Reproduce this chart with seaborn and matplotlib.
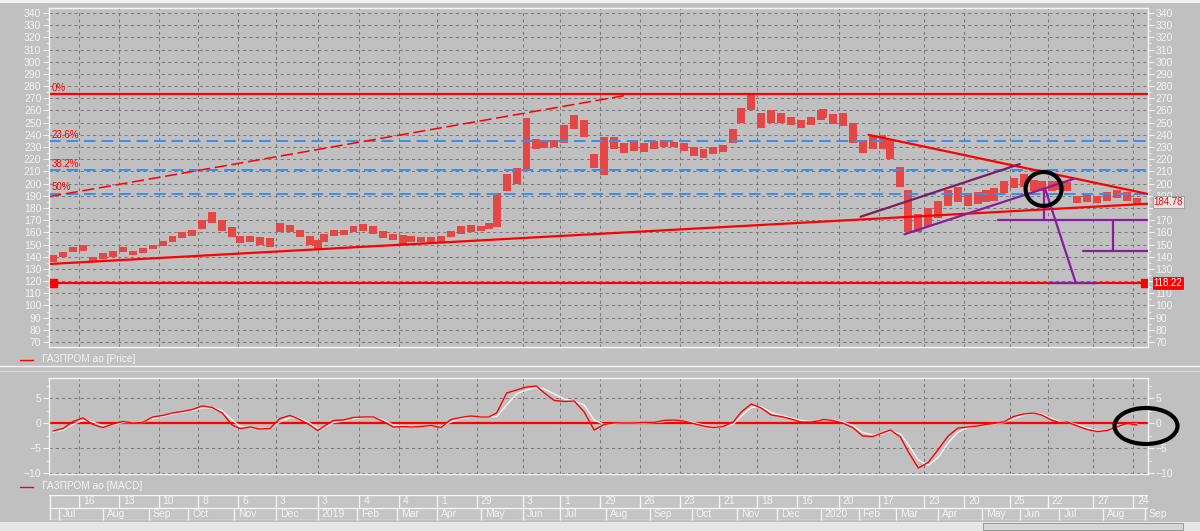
import numpy as np
import pandas as pd
import matplotlib
matplotlib.use("Agg")
import matplotlib.pyplot as plt
import matplotlib.transforms as mtransforms
from matplotlib.patches import Ellipse, Rectangle
from matplotlib.lines import Line2D
from matplotlib.ticker import MultipleLocator, FuncFormatter
import seaborn as sns

sns.set_style("white")
plt.rcParams["font.family"] = ["Liberation Sans", "DejaVu Sans"]

BG = "#C0C0C0"
LIGHT = "#F4F4F4"
GRID = "#7A7A7A"
RED = "#FF0000"
BAR_RED = "#E54646"
BLUE = "#3A8EF0"
PURPLE = "#8A1C9E"
PLUM = "#7A1E5E"

# ---- data ----
first_session = "2018-06-25"
moex_holidays = ["2018-11-05", "2019-01-01", "2019-01-02", "2019-01-07", "2019-03-08",
                 "2019-05-01", "2019-05-09", "2019-06-12", "2019-11-04", "2020-01-01",
                 "2020-01-02", "2020-01-03", "2020-01-07", "2020-02-24", "2020-03-09",
                 "2020-05-01", "2020-05-11", "2020-06-12", "2020-06-24", "2020-07-01"]

# weekly high / low of ГАЗПРОМ ао
price_low = [136, 140, 144, 145, 136, 138, 140, 144, 141, 143,
             146, 149, 152, 155, 157, 163, 168, 161, 156, 151,
             152, 150, 148, 160, 160, 156, 150, 146, 152, 157,
             158, 160, 161, 159, 155, 154, 150, 152, 152, 151,
             151, 156, 159, 160, 161, 163, 164, 194, 200, 212,
             228, 229, 230, 233, 245, 238, 213, 207, 228, 225,
             227, 226, 228, 230, 230, 227, 223, 221, 224, 226,
             233, 250, 260, 246, 250, 250, 248, 246, 248, 252,
             254, 249, 247, 233, 225, 228, 228, 220, 197, 160,
             160, 165, 172, 182, 185, 182, 183, 185, 186, 192,
             196, 197, 194, 194, 194, 195, 194, 184, 185, 184,
             186, 188, 186, 183]
price_high = [141, 144, 148, 150, 140, 143, 145, 148, 145, 147,
              150, 153, 157, 160, 162, 170, 177, 170, 164, 157,
              157, 156, 155, 168, 166, 162, 157, 154, 159, 162,
              162, 165, 167, 165, 161, 159, 158, 157, 156, 156,
              157, 161, 165, 166, 165, 168, 192, 208, 213, 254,
              237, 236, 236, 248, 256, 252, 224, 238, 238, 233,
              234, 233, 235, 236, 234, 233, 230, 228, 230, 232,
              245, 262, 273, 258, 260, 258, 255, 252, 255, 260,
              261, 257, 258, 250, 236, 240, 240, 236, 214, 195,
              175, 180, 186, 195, 197, 192, 193, 195, 196, 202,
              205, 208, 203, 202, 202, 202, 201, 190, 191, 190,
              193, 195, 193, 188]
macd_line = [-1.6, -1.1, 0.3, 1.0, -0.3, -0.9, -0.2, 0.3, 0.0, 0.1,
             1.2, 1.5, 2.0, 2.3, 2.7, 3.4, 3.1, 2.0, -0.4, -1.1,
             -0.8, -1.2, -1.1, 0.9, 1.5, 0.7, -0.4, -1.5, -0.7, 0.5,
             0.6, 1.1, 1.2, 1.2, 0.3, -0.8, -0.7, -0.8, -0.7, -0.5,
             -0.9, 0.7, 1.1, 1.4, 1.2, 1.2, 2.0, 6.0, 6.6, 7.2,
             7.4, 6.0, 4.5, 4.3, 4.4, 2.2, -1.4, -0.3, 0.0, 0.0,
             0.0, 0.1, 0.1, 0.5, 0.6, 0.4, -0.1, -0.6, -0.9, -0.7,
             0.2, 2.2, 3.8, 3.0, 1.6, 1.3, 0.8, 0.2, 0.2, 0.5,
             0.7, 0.5, 0.0, -0.9, -2.6, -2.7, -2.0, -1.4, -2.8, -5.8,
             -9.0, -7.9, -5.3, -2.6, -1.0, -0.8, -0.6, -0.3, -0.1, 0.2,
             1.3, 1.8, 2.0, 1.6, 0.6, 0.1, 0.2, -0.6, -1.3, -1.7,
             -1.5, -0.8, -0.1, -0.4]
signal_line = [-1.8, -1.4, -0.3, 0.6, 0.2, -0.6, -0.4, 0.1, 0.1, 0.1,
               0.9, 1.3, 1.8, 2.1, 2.5, 3.0, 3.1, 2.4, 0.6, -0.7,
               -0.9, -1.1, -1.1, 0.2, 1.1, 0.9, 0.0, -1.1, -0.9, 0.1,
               0.4, 0.9, 1.1, 1.1, 0.6, -0.4, -0.6, -0.7, -0.7, -0.6,
               -0.7, 0.2, 0.9, 1.2, 1.2, 1.2, 1.3, 3.6, 5.8, 6.6,
               7.1, 6.8, 5.8, 4.8, 4.4, 3.6, 0.6, -0.3, -0.1, 0.0,
               0.0, 0.0, 0.1, 0.3, 0.5, 0.4, 0.1, -0.4, -0.8, -0.8,
               -0.2, 1.4, 3.1, 3.3, 2.1, 1.5, 1.0, 0.5, 0.3, 0.4,
               0.6, 0.6, 0.2, -0.5, -1.9, -2.4, -2.2, -1.6, -2.2, -4.3,
               -7.4, -8.5, -6.9, -4.0, -1.8, -0.9, -0.7, -0.4, -0.2, 0.1,
               0.9, 1.6, 2.0, 1.8, 0.9, 0.3, 0.2, -0.3, -1.0, -1.5,
               -1.5, -1.0, -0.3, -0.2]
week_mid = pd.date_range("2018-06-27", periods=len(price_low), freq="7D")

fib_levels = [273.5, 234.8, 210.9, 191.5]
fib_labels = ["0%", "23.6%", "38.2%", "50%"]
stop_level = 118.22
last_price = 184.78
hidden_right_ticks = [120, 180]   # covered by the price boxes on the right scale

# trend lines drawn by hand on the chart: (dates, prices)
support_line = (["2018-06-25", "2020-09-03"], [134.0, 183.5])
resistance_line = (["2020-02-10", "2020-09-03"], [240.0, 191.3])
dashed_trend = (["2018-06-25", "2019-08-16"], [189.3, 272.7])
channel_top = (["2020-02-04", "2020-06-01"], [172.8, 216.0])
channel_bottom = (["2020-03-06", "2020-07-13"], [158.4, 203.8])
target_marks = [(["2020-05-15", "2020-09-03"], [170.1, 170.1]),
                (["2020-07-20", "2020-09-03"], [145.0, 145.0]),
                (["2020-08-10", "2020-08-10"], [170.1, 145.0]),
                (["2020-06-18", "2020-06-18"], [194.6, 170.1]),
                (["2020-06-19", "2020-07-14"], [194.6, 119.5]),
                (["2020-06-23", "2020-07-29"], [118.4, 118.4])]
stop_marks = ["2018-06-27", "2020-09-01"]
circle_price = ("2020-06-18", 195.6)
circle_macd = ("2020-09-01", -0.6)

tick_weeks = ["2018-07-16", "2018-08-13", "2018-09-10", "2018-10-08", "2018-11-06",
              "2018-12-03", "2019-01-03", "2019-02-04", "2019-03-04", "2019-04-01",
              "2019-04-29", "2019-06-03", "2019-07-01", "2019-07-29", "2019-08-26",
              "2019-09-23", "2019-10-21", "2019-11-18", "2019-12-16", "2020-01-20",
              "2020-02-17", "2020-03-23", "2020-04-20", "2020-05-25", "2020-06-22",
              "2020-07-27", "2020-08-24"]
month_labels = ["Jul", "Aug", "Sep", "Oct", "Nov", "Dec", "2019", "Feb", "Mar", "Apr",
                "May", "Jun", "Jul", "Aug", "Sep", "Oct", "Nov", "Dec", "2020", "Feb",
                "Mar", "Apr", "May", "Jun", "Jul", "Aug", "Sep"]

hol = np.array(moex_holidays, dtype="datetime64[D]")


def sess(dates):
    d = np.array(pd.to_datetime(list(dates)).values, dtype="datetime64[D]")
    return np.busday_count(np.datetime64(first_session), d, holidays=hol).astype(float)


month_starts = np.busday_offset(
    np.array(pd.date_range("2018-07-01", "2020-09-01", freq="MS").values, dtype="datetime64[D]"),
    0, roll="forward", holidays=hol)
month_x = np.busday_count(np.datetime64(first_session), month_starts, holidays=hol).astype(float)

XL = (-0.1, 552.5)
W, H = 1200, 531


def box(l, t, r, b):
    return [l / W, 1 - b / H, (r - l) / W, (b - t) / H]


def style_y(ax, right_labels=True):
    for s in ax.spines.values():
        s.set_color(LIGHT)
        s.set_linewidth(1)
    ax.tick_params(axis="y", which="both", left=True, right=True, labelleft=True,
                   labelright=right_labels, color=LIGHT, labelcolor=LIGHT,
                   labelsize=7.5, pad=1.5)
    ax.tick_params(axis="y", which="major", length=4)
    ax.tick_params(axis="y", which="minor", length=2)


fig = plt.figure(figsize=(12, 5.31), dpi=100, facecolor=BG)
ax1 = fig.add_axes(box(49, 8, 1148, 347), facecolor=BG)
ax2 = fig.add_axes(box(49, 378, 1148, 474), facecolor=BG)
ax3 = fig.add_axes(box(49, 495, 1148, 520), facecolor="#C4C4C4")

wx = sess(tick_weeks)
for ax in (ax1, ax2):
    ax.set_xlim(XL)
    ax.set_xticks(wx)
    ax.tick_params(axis="x", length=0, labelbottom=False)
    ax.grid(True, which="major", color=GRID, linestyle=(0, (3, 3)), linewidth=0.75)
    ax.set_axisbelow(True)

# ---- price panel ----
style_y(ax1, right_labels=False)
ax1.set_ylim(65.9, 344.1)
ax1.yaxis.set_major_locator(MultipleLocator(10))
ax1.yaxis.set_minor_locator(MultipleLocator(5))
ax1.tick_params(axis="y", which="both", right=False)

ax1r = ax1.twinx()
ax1r.set_ylim(ax1.get_ylim())
ax1r.yaxis.set_major_locator(MultipleLocator(10))
ax1r.yaxis.set_minor_locator(MultipleLocator(5))
ax1r.yaxis.set_major_formatter(FuncFormatter(
    lambda v, p: "" if int(round(v)) in hidden_right_ticks else f"{v:.0f}"))
ax1r.grid(False)
for s in ax1r.spines.values():
    s.set_color(LIGHT)
ax1r.tick_params(axis="y", which="both", color=LIGHT, labelcolor=LIGHT, labelsize=7.5, pad=1.5)
ax1r.tick_params(axis="y", which="major", length=4)
ax1r.tick_params(axis="y", which="minor", length=2)

xs = sess(week_mid)
lo = np.array(price_low, float)
hi = np.array(price_high, float)
ax1.bar(xs, hi - lo, bottom=lo, width=4.0, color=BAR_RED, linewidth=0, zorder=3)

for lvl, lab in zip(fib_levels, fib_labels):
    if lab == "0%":
        ax1.axhline(lvl, color=RED, lw=1.6, zorder=4)
    else:
        ax1.axhline(lvl, color=BLUE, lw=1.4, linestyle=(0, (6, 3)), zorder=4)
    ax1.text(1.0, lvl + 1.2, lab, color=RED, fontsize=7, ha="left", va="bottom", zorder=5)

ax1.axhline(stop_level, color=RED, lw=1.6, zorder=4)
ax1.plot(sess(stop_marks), [stop_level] * 2, "s", color=RED, ms=5.5, zorder=7)

d, v = support_line
ax1.plot(sess(d), v, color=RED, lw=1.6, zorder=5)
d, v = resistance_line
ax1.plot(sess(d), v, color=RED, lw=1.6, zorder=5)
d, v = dashed_trend
ax1.plot(sess(d), v, color=RED, lw=1.1, linestyle=(0, (8, 3)), zorder=5)
d, v = channel_top
ax1.plot(sess(d), v, color=PLUM, lw=1.6, zorder=5)
d, v = channel_bottom
ax1.plot(sess(d), v, color=PURPLE, lw=1.6, zorder=5)
for d, v in target_marks:
    ax1.plot(sess(d), v, color=PURPLE, lw=1.6, zorder=5)

cx = sess([circle_price[0]])[0]
ax1.add_patch(Ellipse((cx, circle_price[1]), width=18.1, height=27.9, fill=False,
                      ec="black", lw=3, zorder=8))

trans = mtransforms.blended_transform_factory(ax1r.transAxes, ax1r.transData)
ax1r.text(1.005, last_price, f"{last_price:.2f}", transform=trans, color=RED, fontsize=7,
          ha="left", va="center", zorder=10, clip_on=False,
          bbox=dict(boxstyle="square,pad=0.08", fc="#E6E6E6", ec="#9A9A9A", lw=0.6))
ax1r.text(1.005, stop_level, f"{stop_level:.2f}", transform=trans, color="white", fontsize=7,
          ha="left", va="center", zorder=10, clip_on=False,
          bbox=dict(boxstyle="square,pad=0.08", fc=RED, ec=RED, lw=0.6))

# ---- MACD panel ----
style_y(ax2)
ax2.set_ylim(-10.2, 9)
ax2.yaxis.set_major_locator(MultipleLocator(5))
ax2.yaxis.set_minor_locator(MultipleLocator(2.5))
ax2.axhline(0, color=RED, lw=1.6, zorder=2)
macd_df = pd.DataFrame({"x": xs, "macd": macd_line, "signal": signal_line})
sns.lineplot(data=macd_df, x="x", y="signal", ax=ax2, color="#F2F2F2", lw=1.0,
             estimator=None, zorder=3)
sns.lineplot(data=macd_df, x="x", y="macd", ax=ax2, color=RED, lw=1.0,
             estimator=None, zorder=4)
ax2.set_xlabel("")
ax2.set_ylabel("")
ax2.set_xlim(XL)
mx = sess([circle_macd[0]])[0] + 0.5
ax2.add_patch(Ellipse((mx, circle_macd[1]), width=31.7, height=7.2, fill=False,
                      ec="black", lw=3, zorder=8, clip_on=False))

# ---- date strip ----
ax3.set_xlim(XL)
ax3.set_ylim(0, 2)
ax3.set_xticks([])
ax3.set_yticks([])
for s in ax3.spines.values():
    s.set_visible(False)
for yy in (0, 1, 2):
    ax3.axhline(yy, color=LIGHT, lw=1)
ax3.vlines(wx, 1, 2, color=LIGHT, lw=1)
ax3.vlines(month_x, 0, 1, color=LIGHT, lw=1, clip_on=False)
ax3.vlines([XL[0] + 0.3], 0, 2, color=LIGHT, lw=1)
for x, dstr in zip(wx, tick_weeks):
    ax3.text(x + 2, 1.5, str(pd.Timestamp(dstr).day), color=LIGHT, fontsize=7.5,
             ha="left", va="center")
for x, lab in zip(month_x, month_labels):
    ax3.text(x + 2, 0.5, lab, color=LIGHT, fontsize=7.5, ha="left", va="center", clip_on=False)

# ---- legends and window chrome ----
fig.add_artist(Line2D([20 / W, 33 / W], [1 - 360 / H] * 2, color=RED, lw=1))
fig.text(42 / W, 1 - 359 / H, "ГАЗПРОМ ао [Price]", color=LIGHT, fontsize=7.3, va="center")
fig.add_artist(Line2D([20 / W, 33 / W], [1 - 487 / H] * 2, color=RED, lw=1))
fig.text(42 / W, 1 - 486 / H, "ГАЗПРОМ ао [MACD]", color=LIGHT, fontsize=7.3, va="center")

fig.add_artist(Rectangle((0, 1 - 2.5 / H), 1, 2.5 / H, transform=fig.transFigure,
                         fc="#F2F2F2", ec="none"))
fig.add_artist(Line2D([0, 1], [1 - 366 / H] * 2, color=LIGHT, lw=1))
fig.add_artist(Line2D([0, 1], [1 - 371 / H] * 2, color="#DADADA", lw=1))
fig.add_artist(Rectangle((0, 0), 1, 9 / H, transform=fig.transFigure, fc="#E6E6E6", ec="none"))
fig.add_artist(Rectangle((983 / W, 1 / H), 200 / W, 7 / H, transform=fig.transFigure,
                         fc="#D6D6D6", ec="#8C8C8C", lw=0.6))

fig.savefig("out.png", dpi=100, facecolor=BG)
